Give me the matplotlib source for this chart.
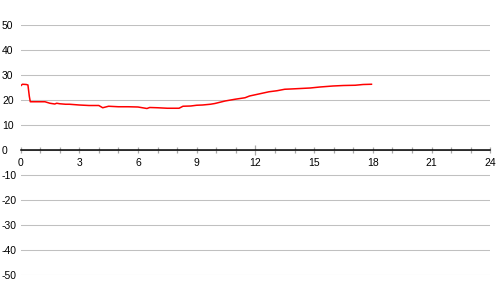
import matplotlib
matplotlib.use("Agg")
import matplotlib.pyplot as plt
import numpy as np

# Data (hours, value)
hours = [0.0, 0.1, 0.3, 0.38, 0.45, 0.5, 1.0, 1.25, 1.5, 1.75, 1.85, 2.0, 2.3, 2.5,
         3.0, 3.5, 4.0, 4.2, 4.5, 5.0, 5.5, 6.0, 6.46, 6.6, 7.0, 7.5, 8.1, 8.3,
         8.7, 9.0, 9.3, 9.7, 9.93, 10.45, 10.96, 11.47, 11.7, 12.23, 12.7, 13.1,
         13.5, 13.8, 14.3, 14.8, 15.3, 15.96, 16.5, 17.1, 17.5, 17.93]
values = [25.6, 26.3, 26.2, 26.0, 21.5, 19.3, 19.3, 19.3, 18.7, 18.4, 18.7, 18.5, 18.3, 18.3,
          18.0, 17.8, 17.8, 16.9, 17.5, 17.3, 17.3, 17.2, 16.6, 17.0, 16.9, 16.7, 16.7, 17.5,
          17.6, 17.9, 18.0, 18.3, 18.6, 19.6, 20.3, 20.9, 21.6, 22.5, 23.3, 23.7,
          24.3, 24.4, 24.6, 24.8, 25.2, 25.6, 25.8, 25.9, 26.2, 26.3]

x_major = [0, 3, 6, 9, 12, 15, 18, 21, 24]
x_labels = ["0", "3", "6", "9", "12", "15", "18", "21", "24"]
y_ticks = [-50, -40, -30, -20, -10, 0, 10, 20, 30, 40, 50]
y_labels = ["-50", "-40", "-30", "-20", "-10", "0", "10", "20", "30", "40", "50"]

plt.rcParams['font.family'] = ['Liberation Sans', 'DejaVu Sans']

fig = plt.figure(figsize=(5, 3), dpi=100)
ax = fig.add_axes([20.5 / 500, 25 / 300, (490.3 - 20.5) / 500, 250 / 300])
ax.set_xlim(0, 24)
ax.set_ylim(-50, 50)

for s in ['top', 'right', 'left']:
    ax.spines[s].set_visible(False)
ax.spines['bottom'].set_position(('data', 0))
ax.spines['bottom'].set_color('black')
ax.spines['bottom'].set_linewidth(1.1)
ax.spines['bottom'].set_zorder(3)

ax.set_yticks(y_ticks)
ax.set_yticklabels(y_labels, fontsize=7.5, ha='left')
ax.tick_params(axis='y', length=0, pad=13.3)
ax.yaxis.grid(True, color='#c0c0c0', linewidth=0.75)
ax.set_axisbelow(True)

ax.set_xticks(x_major)
ax.set_xticklabels(x_labels, fontsize=7.5)
ax.set_xticks(np.arange(0, 25, 1), minor=True)
ax.tick_params(axis='x', which='both', direction='inout', length=4.5, width=0.9,
               color='#a8a8a8', pad=3.2)
# Longer mid tick at 12
for t in ax.xaxis.get_major_ticks():
    if abs(t.get_loc() - 12) < 1e-9:
        t.tick1line.set_markersize(7)

ax.plot(hours, values, color='red', linewidth=1.1, zorder=4)

fig.savefig('out.png', dpi=100)
